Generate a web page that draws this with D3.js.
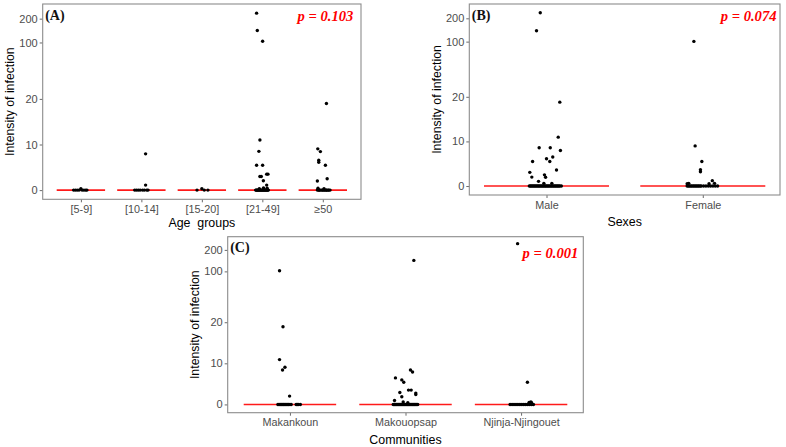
<!DOCTYPE html>
<html>
<head>
<meta charset="utf-8">
<script src="https://cdn.jsdelivr.net/npm/d3@7"></script>
<style>
  body { margin: 0; background: #fff; }
  svg { display: block; font-family: "Liberation Sans", Arial, sans-serif; }
</style>
</head>
<body>
<svg id="chart" width="786" height="447"></svg>
<script>
// tick values of the y axis (the axis is piecewise: 0-10-20 even, then 100 and 200 compressed)
const yTicks = [0, 10, 20, 100, 200];

// (A) age groups, each point is [intensity, jitter as fraction of the category step]
const ageGroups = ["[5-9]", "[10-14]", "[15-20]", "[21-49]", "≥50"];
const ageValues = [
  [[0, -0.12], [0, -0.09], [0, -0.06], [0, -0.03], [0, 0.02], [0, 0.05], [0, 0.08], [0, 0.1], [0.3, 0]],
  [[0, -0.11], [0, -0.08], [0, -0.05], [0, -0.02], [0, 0.02], [0, 0.05], [0, 0.09], [0, 0.11], [7.95, 0.07], [1.1, 0.07]],
  [[0, -0.08], [0.3, 0], [0, 0.04], [0, 0.1]],
  [[223, -0.095], [150, -0.083], [105, 0.005], [11, -0.04], [8.5, -0.057], [5.45, -0.095], [5.45, 0.005],
   [3, -0.04], [3, -0.017], [3.5, 0.072], [3.5, 0.093], [2.05, 0.017], [1.1, 0.072], [0.5, 0.02], [0.4, 0.08], [0.3, -0.05],
   [0, -0.11], [0, -0.1], [0, -0.09], [0, -0.08], [0, -0.07], [0, -0.06], [0, -0.05], [0, -0.04], [0, -0.03], [0, -0.02],
   [0, -0.01], [0, 0], [0, 0.01], [0, 0.02], [0, 0.03], [0, 0.04], [0, 0.05], [0, 0.06], [0, 0.07], [0, 0.08],
   [0, 0.09], [0, 0.1]],
  [[19, 0.06], [9.05, -0.083], [8.45, -0.04], [6.55, -0.067], [6.1, -0.067], [5.45, 0.043], [2.5, 0.072], [2, -0.09],
   [0.4, -0.08], [0.3, 0.02],
   [0, -0.09], [0, -0.07], [0, -0.06], [0, -0.05], [0, -0.03], [0, -0.01], [0, 0], [0, 0.02], [0, 0.03], [0, 0.05],
   [0, 0.06], [0, 0.07], [0, 0.09], [0, 0.1], [0, 0.12]]
];

// (B) sexes
const sexes = ["Male", "Female"];
const sexValues = [
  [[224, -0.04], [147, -0.064], [18.8, 0.085], [10.96, 0.075], [8.57, -0.047], [8.57, 0.024], [7.98, 0.089],
   [5.5, -0.089], [6.5, 0.04], [6.1, 0], [5.5, 0.021], [3.6, 0.064], [3.06, -0.107], [2, -0.094], [2.5, -0.013],
   [1.95, -0.006], [1.05, -0.051], [0.6, -0.017], [0.6, 0.034],
   [0, -0.11], [0, -0.103], [0, -0.097], [0, -0.09], [0, -0.084], [0, -0.077], [0, -0.071], [0, -0.064], [0, -0.058],
   [0, -0.051], [0, -0.045], [0, -0.038], [0, -0.032], [0, -0.025], [0, -0.019], [0, -0.012], [0, -0.006], [0, 0],
   [0, 0.007], [0, 0.013], [0, 0.02], [0, 0.027], [0, 0.033], [0, 0.04], [0, 0.046], [0, 0.053], [0, 0.059],
   [0, 0.066], [0, 0.072], [0, 0.079], [0, 0.085], [0, 0.095]],
  [[101, -0.057], [9, -0.049], [5.5, -0.006], [3.65, -0.015], [3.2, -0.015], [1.2, 0.061],
   [0.5, -0.1], [0.6, -0.09], [0.5, 0.04], [0.6, 0.075],
   [0, -0.1], [0, -0.092], [0, -0.085], [0, -0.077], [0, -0.07], [0, -0.062], [0, -0.055], [0, -0.047], [0, -0.04],
   [0, -0.032], [0, -0.025], [0, -0.017], [0, -0.01], [0, 0.005], [0, 0.02], [0, 0.035], [0, 0.05], [0, 0.065],
   [0, 0.08], [0, 0.095]]
];

// (C) communities
const communities = ["Makankoun", "Makouopsap", "Njinja-Njingouet"];
const communityValues = [
  [[103, -0.09], [18.9, -0.06], [10.9, -0.09], [9.03, -0.043], [8.38, -0.064], [2.03, -0.003],
   [0, -0.104], [0, -0.094], [0, -0.084], [0, -0.075], [0, -0.067], [0, -0.058], [0, -0.05], [0, -0.041], [0, -0.032],
   [0, -0.022], [0, -0.012], [0, 0], [0, 0.011], [0, 0.054], [0, 0.063], [0, 0.072], [0, 0.09]],
  [[151, 0.072], [8.38, 0.043], [7.9, 0.061], [6.45, -0.087], [5.97, -0.032], [5.4, -0.015], [3.48, 0.026], [3.48, 0.049],
   [2.75, 0.089], [2.4, 0.089], [2.9, -0.049], [1.86, -0.032], [0.97, -0.095], [0.6, -0.02], [0.4, 0.02],
   [0, -0.106], [0, -0.098], [0, -0.09], [0, -0.082], [0, -0.074], [0, -0.066], [0, -0.058], [0, -0.05], [0, -0.042],
   [0, -0.034], [0, -0.026], [0, -0.018], [0, -0.01], [0, -0.002], [0, 0.006], [0, 0.014], [0, 0.022], [0, 0.03],
   [0, 0.038], [0, 0.046], [0, 0.054], [0, 0.062], [0, 0.07], [0, 0.078], [0, 0.086], [0, 0.096], [0, 0.106]],
  [[229, -0.03], [5.4, 0.055], [0.5, 0.07], [0.6, 0.085], [0.4, 0.09],
   [0, -0.095], [0, -0.078], [0, -0.061], [0, -0.044], [0, -0.027], [0, -0.01], [0, 0.007], [0, 0.024], [0, 0.041],
   [0, 0.058], [0, 0.075], [0, 0.092], [0, 0.107]]
];

const panelLabels = ["(A)", "(B)", "(C)"];
const pValues = ["p = 0.103", "p = 0.074", "p = 0.001"];
const xTitles = ["Age  groups", "Sexes", "Communities"];
const yTitle = "Intensity of infection";

// layout of the three panels (pixel boxes)
const panels = [
  { cats: ageGroups, vals: ageValues, x0: 42.7, x1: 361, y0: 4, y1: 199.3, gap: 14, xTitleDy: 27.5, pDy: 16.7, pRight: 7.7 },
  { cats: sexes, vals: sexValues, x0: 469.3, x1: 780, y0: 4, y1: 195, gap: 14.7, xTitleDy: 30.5, pDy: 16.7, pRight: 3.5 },
  { cats: communities, vals: communityValues, x0: 227.7, x1: 583.3, y0: 236.7, y1: 412.7, gap: 16, xTitleDy: 31, pDy: 21.6, pRight: 5 }
];

// relative position of each y tick between 0 and 200
const breakPos = [0, 0.266, 0.532, 0.861, 1];

const svg = d3.select("#chart");

panels.forEach((p, i) => {
  const h = p.y1 - p.y0;
  const yZero = p.y1 - 0.047 * h;
  const yTop = p.y0 + 0.075 * h;

  const y = d3.scaleLinear()
    .domain(yTicks)
    .range(breakPos.map(f => yZero - f * (yZero - yTop)));

  const x = d3.scalePoint()
    .domain(p.cats)
    .range([p.x0 + p.gap, p.x1 - p.gap])
    .padding(0.4);
  const step = x.step();

  const g = svg.append("g");

  // y axis
  const yAxis = g.append("g")
    .attr("transform", `translate(${p.x0},0)`)
    .call(d3.axisLeft(y).tickValues(yTicks).tickSize(3).tickPadding(2).tickFormat(d3.format("d")));
  yAxis.select(".domain").remove();
  yAxis.selectAll("line").attr("stroke", "#444").attr("stroke-width", 0.8);
  yAxis.selectAll("text")
    .attr("fill", "#4d4d4d")
    .style("font-size", "11px")
    .style("font-family", "'Liberation Sans', Arial, sans-serif");

  // x axis
  const xAxis = g.append("g")
    .attr("transform", `translate(0,${p.y1})`)
    .call(d3.axisBottom(x).tickSize(3).tickPadding(3));
  xAxis.select(".domain").remove();
  xAxis.selectAll("line").attr("stroke", "#444").attr("stroke-width", 0.8);
  xAxis.selectAll("text")
    .attr("fill", "#4d4d4d")
    .style("font-size", "10.8px")
    .style("font-family", "'Liberation Sans', Arial, sans-serif");

  // panel border
  g.append("rect")
    .attr("x", p.x0)
    .attr("y", p.y0)
    .attr("width", p.x1 - p.x0)
    .attr("height", p.y1 - p.y0)
    .attr("fill", "none")
    .attr("stroke", "#8c8c8c")
    .attr("stroke-width", 1.1);

  // median lines
  p.cats.forEach((c, k) => {
    const med = d3.median(p.vals[k], d => d[0]);
    g.append("line")
      .attr("x1", x(c) - 0.4 * step)
      .attr("x2", x(c) + 0.4 * step)
      .attr("y1", y(med))
      .attr("y2", y(med))
      .attr("stroke", "#ff1a1a")
      .attr("stroke-width", 1.6);
  });

  // points
  p.cats.forEach((c, k) => {
    g.append("g")
      .selectAll("circle")
      .data(p.vals[k])
      .enter().append("circle")
      .attr("cx", d => x(c) + d[1] * step)
      .attr("cy", d => y(d[0]))
      .attr("r", 1.7)
      .attr("fill", "#000");
  });

  // panel label
  g.append("text")
    .attr("x", p.x0 + 2.5)
    .attr("y", p.y0 + 15.5)
    .style("font-family", "'Liberation Serif', 'Times New Roman', serif")
    .style("font-weight", "bold")
    .style("font-size", "14px")
    .attr("fill", "#111")
    .text(panelLabels[i]);

  // p value
  g.append("text")
    .attr("x", p.x1 - p.pRight)
    .attr("y", p.y0 + p.pDy)
    .attr("text-anchor", "end")
    .style("font-family", "'Liberation Serif', 'Times New Roman', serif")
    .style("font-weight", "bold")
    .style("font-style", "italic")
    .style("font-size", "14.6px")
    .attr("fill", "#ff0000")
    .text(pValues[i]);

  // axis titles
  g.append("text")
    .attr("x", (p.x0 + p.x1) / 2)
    .attr("y", p.y1 + p.xTitleDy)
    .attr("text-anchor", "middle")
    .style("font-size", "12.4px")
    .style("white-space", "pre")
    .attr("fill", "#000")
    .text(xTitles[i]);

  g.append("text")
    .attr("transform", `translate(${p.x0 - 33},${(p.y0 + p.y1) / 2}) rotate(-90)`)
    .attr("text-anchor", "middle")
    .attr("dy", "0.35em")
    .style("font-size", "12.3px")
    .attr("fill", "#000")
    .text(yTitle);
});
</script>
</body>
</html>
